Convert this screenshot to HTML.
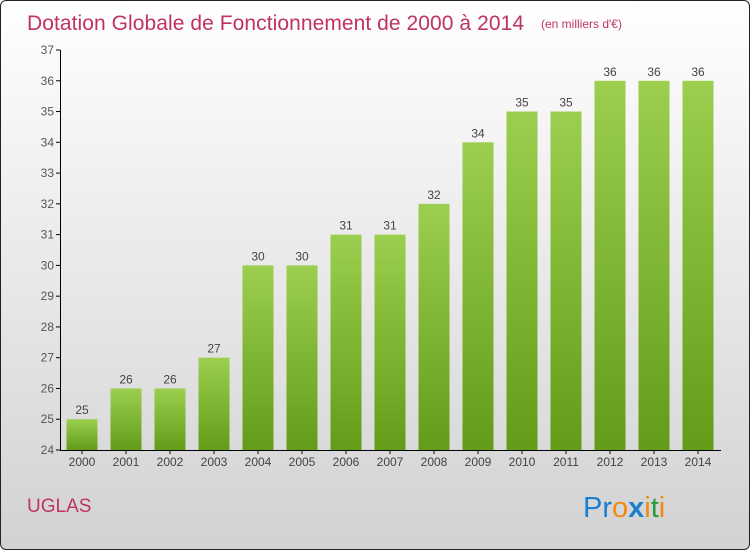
<!DOCTYPE html>
<html><head><meta charset="utf-8"><style>
body{margin:0;width:750px;height:550px;overflow:hidden;font-family:"Liberation Sans",sans-serif}
#frame{position:absolute;left:0;top:0;width:748px;height:548px;border:1px solid #222;border-radius:6px;background:linear-gradient(#fff,#d2d2d2)}
</style></head><body>
<div id="frame"></div>
<svg id="chart" width="750" height="550" style="position:absolute;left:0;top:0">
<defs><linearGradient id="bg" x1="0" y1="0" x2="0" y2="1"><stop offset="0" stop-color="#9ccf4f"/><stop offset="1" stop-color="#639c19"/></linearGradient></defs>
<text x="27" y="30" font-size="21" fill="#c0335f" textLength="497">Dotation Globale de Fonctionnement de 2000 à 2014</text>
<text x="541" y="28" font-size="12" fill="#c0335f">(en milliers d'€)</text>
<text x="27" y="512" font-size="19" fill="#c0335f">UGLAS</text>
<g font-size="29">
<text x="583" y="517"><tspan fill="#1b7fd1">Pr</tspan><tspan fill="#f08a11">o</tspan><tspan fill="#1b7fd1" font-weight="bold">x</tspan><tspan fill="#f08a11">i</tspan><tspan fill="#2a9a3a">t</tspan><tspan fill="#f08a11">i</tspan></text></g>
<g id="plot"></g>
</svg>
<script>
const categories=["2000","2001","2002","2003","2004","2005","2006","2007","2008","2009","2010","2011","2012","2013","2014"];
const values=[25,26,26,27,30,30,31,31,32,34,35,35,36,36,36];
const yTicks=[24,25,26,27,28,29,30,31,32,33,34,35,36,37];
const ns="http://www.w3.org/2000/svg";
const g=document.getElementById('plot');
const y=v=>450-(v-24)*400/13;
const x=i=>82+i*44;
function el(t,a,txt){const e=document.createElementNS(ns,t);for(const k in a)e.setAttribute(k,a[k]);if(txt!=null)e.textContent=txt;g.appendChild(e);return e;}
yTicks.forEach(t=>{
 const tk=el('line',{x1:56,x2:60,y1:y(t),y2:y(t),stroke:'#000'});
 
 
 const l=el('text',{x:54,y:y(t)+4,'text-anchor':'end','font-size':12,fill:'#555'},t);
 
 
});
values.forEach((v,i)=>{
 const r=el('rect',{x:x(i)-15.5,y:y(v),width:31,height:450-y(v),fill:'url(#bg)'});
 
 
 const vl=el('text',{x:x(i),y:y(v)-5,'text-anchor':'middle','font-size':12,fill:'#444'},v);
 
 
 const tk=el('line',{x1:x(i),x2:x(i),y1:450,y2:454,stroke:'#000'});
 
 
 const cl=el('text',{x:x(i),y:466,'text-anchor':'middle','font-size':12,fill:'#444'},categories[i]);
 
 
});
const ya=el('line',{x1:60.5,x2:60.5,y1:y(37),y2:450,stroke:'#000'});


const xa=el('line',{x1:60,x2:721,y1:450.5,y2:450.5,stroke:'#000'});


</script>
</body></html>
